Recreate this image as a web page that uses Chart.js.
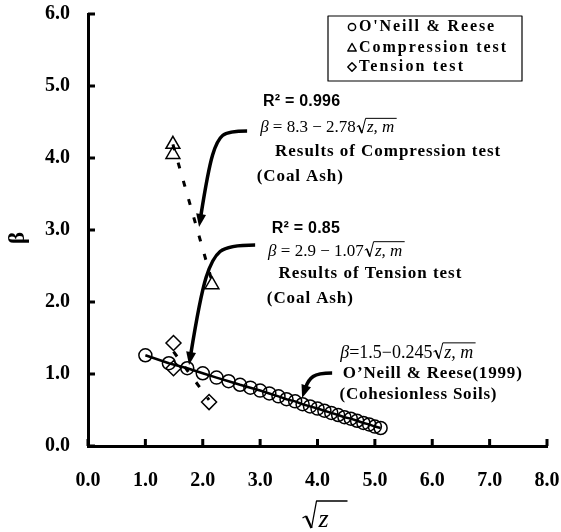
<!DOCTYPE html>
<html><head><meta charset="utf-8">
<script src="https://cdn.jsdelivr.net/npm/chart.js@4.4.1/dist/chart.umd.min.js"></script>
<style>html,body{margin:0;padding:0;background:#fff}canvas{display:block}</style>
</head><body>
<canvas id="c" width="561" height="532" style="width:561px;height:532px"></canvas>
<script>
// ---- data ----
const seriesLabels = ["O'Neill & Reese", "Compression test", "Tension test"];
const sqrtZ = [1.0, 1.41, 1.73, 2.0, 2.24, 2.45, 2.65, 2.83, 3.0, 3.16, 3.32, 3.46, 3.61, 3.74, 3.87, 4.0, 4.12, 4.24, 4.36, 4.47, 4.58, 4.69, 4.80, 4.90, 5.0, 5.10];
const betaONeill = [1.26, 1.15, 1.08, 1.01, 0.95, 0.90, 0.85, 0.81, 0.77, 0.73, 0.69, 0.65, 0.62, 0.58, 0.55, 0.52, 0.49, 0.46, 0.43, 0.40, 0.38, 0.35, 0.32, 0.30, 0.27, 0.25];
const compX = [1.48, 1.48, 2.16];
const compY = [4.19, 4.05, 2.24];
const tensX = [1.49, 1.49, 2.11];
const tensY = [1.43, 1.08, 0.61];
const compTrendX = [1.48, 2.16];
const compTrendY = [4.19, 2.29];
const tensTrendX = [1.49, 2.11];
const tensTrendY = [1.31, 0.64];
const xTicks = [0, 1, 2, 3, 4, 5, 6, 7, 8];
const yTicks = [0, 1, 2, 3, 4, 5, 6];

const pts = (xs, ys) => xs.map((x, i) => ({x: x, y: ys[i]}));
const SERIF = '"Liberation Serif", "Times New Roman", serif';
const SANS = '"Liberation Sans", Arial, sans-serif';

// annotation anchors (data units)
const arrows = [
  [[2.773, 4.375], [2.442, 4.375], [2.25, 4.25], [2.093, 3.833], [1.936, 3.042]],
  [[2.913, 2.792], [2.442, 2.792], [2.163, 2.611], [1.953, 2.069], [1.761, 1.125]],
  [[4.255, 1.014], [4.011, 1.014], [3.837, 0.917], [3.732, 0.667]]
];

function fitText(ctx, text, x, y, font, width) {
  ctx.font = font;
  ctx.letterSpacing = '0px';
  const w = ctx.measureText(text).width;
  const ls = width ? Math.max(0, (width - w) / Math.max(1, text.length - 1)) : 0;
  ctx.letterSpacing = ls.toFixed(2) + 'px';
  ctx.fillText(text, x, y);
  ctx.letterSpacing = '0px';
}

function drawEq(ctx, x, yMid, pre, fs) {
  const b = yMid + fs * 0.33;
  ctx.textBaseline = 'alphabetic';
  ctx.textAlign = 'left';
  ctx.fillStyle = '#000';
  ctx.font = 'italic ' + fs + 'px ' + SERIF;
  ctx.fillText('\u03B2', x, b);
  x += ctx.measureText('\u03B2').width;
  ctx.font = fs + 'px ' + SERIF;
  ctx.fillText(pre, x, b);
  x += ctx.measureText(pre).width + 1;
  ctx.font = 'italic ' + fs + 'px ' + SERIF;
  const tw = ctx.measureText('z, m').width;
  ctx.strokeStyle = '#000';
  ctx.lineWidth = 1;
  ctx.beginPath();
  ctx.moveTo(x, b - fs * 0.32);
  ctx.lineTo(x + fs * 0.12, b - fs * 0.40);
  ctx.lineTo(x + fs * 0.30, b + fs * 0.05);
  ctx.lineTo(x + fs * 0.52, b - fs * 0.82);
  ctx.lineTo(x + fs * 0.62 + tw + 2, b - fs * 0.82);
  ctx.stroke();
  ctx.beginPath();
  ctx.lineWidth = 1.6;
  ctx.moveTo(x + fs * 0.12, b - fs * 0.40);
  ctx.lineTo(x + fs * 0.30, b + fs * 0.05);
  ctx.stroke();
  ctx.fillText('z, m', x + fs * 0.60, b);
}

function drawArrow(ctx, p) {
  const last = p[p.length - 1], prev = p[p.length - 2];
  const ang = Math.atan2(last[1] - prev[1], last[0] - prev[0]);
  const L = 13, W = 5;
  const end = [last[0] - Math.cos(ang) * (L - 2), last[1] - Math.sin(ang) * (L - 2)];
  const q = p.slice(0, -1).concat([end]);
  ctx.strokeStyle = '#000';
  ctx.lineWidth = 3.5;
  ctx.lineJoin = 'round';
  ctx.beginPath();
  ctx.moveTo(q[0][0], q[0][1]);
  for (let i = 1; i < q.length - 1; i++) {
    const mx = (q[i][0] + q[i + 1][0]) / 2, my = (q[i][1] + q[i + 1][1]) / 2;
    ctx.quadraticCurveTo(q[i][0], q[i][1], i === q.length - 2 ? q[i + 1][0] : mx, i === q.length - 2 ? q[i + 1][1] : my);
  }
  ctx.stroke();
  ctx.fillStyle = '#000';
  ctx.beginPath();
  ctx.moveTo(last[0], last[1]);
  ctx.lineTo(last[0] - Math.cos(ang) * L + Math.sin(ang) * W, last[1] - Math.sin(ang) * L - Math.cos(ang) * W);
  ctx.lineTo(last[0] - Math.cos(ang) * L - Math.sin(ang) * W, last[1] - Math.sin(ang) * L + Math.cos(ang) * W);
  ctx.closePath();
  ctx.fill();
}

const decor = {
  id: 'decor',
  afterDatasetsDraw(chart) {
    const ctx = chart.ctx, xs = chart.scales.x, ys = chart.scales.y, ca = chart.chartArea;
    const P = (a) => [xs.getPixelForValue(a[0]), ys.getPixelForValue(a[1])];
    ctx.save();
    ctx.strokeStyle = '#000';
    ctx.lineWidth = 3;
    ctx.beginPath();
    xTicks.forEach(v => { const px = xs.getPixelForValue(v); ctx.moveTo(px, ca.bottom); ctx.lineTo(px, ca.bottom - 7); });
    yTicks.forEach(v => { const py = ys.getPixelForValue(v); ctx.moveTo(ca.left, py); ctx.lineTo(ca.left + 7, py); });
    ctx.stroke();
    arrows.forEach(a => drawArrow(ctx, a.map(P)));
    ctx.fillStyle = '#000';
    ctx.textAlign = 'left';
    ctx.textBaseline = 'middle';
    let p;
    p = P([3.052, 4.782]); fitText(ctx, 'R\u00B2 = 0.996', p[0], p[1], 'bold 16px ' + SANS, 77);
    p = P([3.0, 4.435]); drawEq(ctx, p[0], p[1], ' = 8.3 \u2212 2.78', 17);
    ctx.textBaseline = 'middle';
    p = P([3.261, 4.088]); fitText(ctx, 'Results of Compression test', p[0], p[1], 'bold 17px ' + SERIF, 225);
    p = P([2.942, 3.740]); fitText(ctx, '(Coal Ash)', p[0], p[1], 'bold 17px ' + SERIF, 86);
    p = P([3.204, 3.024]); fitText(ctx, 'R\u00B2 = 0.85', p[0], p[1], 'bold 16px ' + SANS, 68);
    p = P([3.139, 2.722]); drawEq(ctx, p[0], p[1], ' = 2.9 \u2212 1.07', 17);
    ctx.textBaseline = 'middle';
    p = P([3.319, 2.399]); fitText(ctx, 'Results of Tension test', p[0], p[1], 'bold 17px ' + SERIF, 183);
    p = P([3.117, 2.051]); fitText(ctx, '(Coal Ash)', p[0], p[1], 'bold 17px ' + SERIF, 86);
    p = P([4.395, 1.310]); drawEq(ctx, p[0], p[1], '=1.5\u22120.245', 18);
    ctx.textBaseline = 'middle';
    p = P([4.442, 1.010]); fitText(ctx, 'O\u2019Neill & Reese(1999)', p[0], p[1], 'bold 17px ' + SERIF, 179);
    p = P([4.383, 0.708]); fitText(ctx, '(Cohesionless Soils)', p[0], p[1], 'bold 17px ' + SERIF, 157);

    // legend box
    const bx = ca.right - 219, by = ca.top + 2, bw = 194, bh = 65;
    ctx.fillStyle = '#fff';
    ctx.fillRect(bx, by, bw, bh);
    ctx.strokeStyle = '#000';
    ctx.lineWidth = 1.2;
    ctx.strokeRect(bx, by, bw, bh);
    const rowY = [by + 11, by + 32, by + 51];
    const widths = [135, 147, 104];
    const sx = bx + 24;
    ctx.lineWidth = 1.5;
    ctx.beginPath(); ctx.arc(sx, rowY[0], 3.6, 0, Math.PI * 2); ctx.stroke();
    ctx.beginPath(); ctx.moveTo(sx, rowY[1] - 4.5); ctx.lineTo(sx + 4.2, rowY[1] + 3); ctx.lineTo(sx - 4.2, rowY[1] + 3); ctx.closePath(); ctx.stroke();
    ctx.beginPath(); ctx.moveTo(sx, rowY[2] - 4.2); ctx.lineTo(sx + 4.2, rowY[2]); ctx.lineTo(sx, rowY[2] + 4.2); ctx.lineTo(sx - 4.2, rowY[2]); ctx.closePath(); ctx.stroke();
    ctx.fillStyle = '#000';
    ctx.textBaseline = 'middle';
    seriesLabels.forEach((t, i) => fitText(ctx, t, sx + 7, rowY[i], 'bold 16px ' + SERIF, widths[i]));

    // axis titles
    ctx.save();
    ctx.translate(18, (ca.top + ca.bottom) / 2 + 8);
    ctx.rotate(-Math.PI / 2);
    ctx.textAlign = 'center';
    ctx.textBaseline = 'middle';
    ctx.font = 'bold 23px ' + SERIF;
    ctx.fillText('\u03B2', 0, 0);
    ctx.restore();
    const cx = (ca.left + ca.right) / 2 - 15;
    const base = 527;
    ctx.lineWidth = 1.3;
    ctx.beginPath();
    ctx.moveTo(cx, base - 9);
    ctx.lineTo(cx + 3.5, base - 11);
    ctx.stroke();
    ctx.lineWidth = 2.4;
    ctx.beginPath();
    ctx.moveTo(cx + 3.5, base - 11);
    ctx.lineTo(cx + 9, base + 1);
    ctx.stroke();
    ctx.lineWidth = 1.3;
    ctx.beginPath();
    ctx.moveTo(cx + 9, base + 1);
    ctx.lineTo(cx + 14, base - 26);
    ctx.lineTo(cx + 45, base - 26);
    ctx.stroke();
    ctx.font = 'italic 26px ' + SERIF;
    ctx.textAlign = 'left';
    ctx.textBaseline = 'alphabetic';
    ctx.fillText('z', cx + 16, base);
    ctx.restore();
  }
};

const noEdgePad = s => { s.paddingLeft = 0; s.paddingRight = 0; s.paddingTop = 0; s.paddingBottom = 0; };

new Chart(document.getElementById('c'), {
  type: 'scatter',
  data: {
    datasets: [
      { label: seriesLabels[0], data: pts(sqrtZ, betaONeill), showLine: true, borderColor: '#000', borderWidth: 2.5,
        pointStyle: 'circle', pointRadius: 6.5, pointBorderWidth: 1.5, pointBorderColor: '#000', pointBackgroundColor: 'rgba(0,0,0,0)' },
      { label: seriesLabels[1], data: pts(compX, compY), showLine: false, pointStyle: 'triangle', pointRadius: 8,
        pointBorderWidth: 1.5, pointBorderColor: '#000', pointBackgroundColor: 'rgba(255,255,255,0)' },
      { label: seriesLabels[2], data: pts(tensX, tensY), showLine: false, pointStyle: 'rectRot', pointRadius: 7.5,
        pointBorderWidth: 1.5, pointBorderColor: '#000', pointBackgroundColor: 'rgba(255,255,255,0)' },
      { label: 'compression trend', data: pts(compTrendX, compTrendY), showLine: true, borderColor: '#000', borderWidth: 3,
        borderDash: [6, 13], pointRadius: 0 },
      { label: 'tension trend', data: pts(tensTrendX, tensTrendY), showLine: true, borderColor: '#000', borderWidth: 3,
        borderDash: [6, 13], pointRadius: 0 }
    ]
  },
  options: {
    responsive: false,
    devicePixelRatio: 1,
    animation: false,
    layout: { autoPadding: false, padding: { top: 14, right: 14, left: 0, bottom: 0 } },
    plugins: { legend: { display: false }, tooltip: { enabled: false } },
    scales: {
      x: {
        type: 'linear', min: 0, max: 8,
        afterBuildTicks: s => { s.ticks = xTicks.map(v => ({ value: v })); },
        afterFit: s => { s.height = 86; noEdgePad(s); },
        ticks: { callback: v => v.toFixed(1), color: '#000', padding: 15, maxRotation: 0,
          font: { family: SERIF, size: 20, weight: 'bold' } },
        grid: { display: false },
        border: { display: true, color: '#000', width: 3 }
      },
      y: {
        type: 'linear', min: 0, max: 6,
        afterBuildTicks: s => { s.ticks = yTicks.map(v => ({ value: v })); },
        afterFit: s => { s.width = 88; noEdgePad(s); },
        ticks: { callback: v => v.toFixed(1), color: '#000', padding: 10,
          font: { family: SERIF, size: 20, weight: 'bold' } },
        grid: { display: false },
        border: { display: true, color: '#000', width: 3 }
      }
    }
  },
  plugins: [decor]
});
</script>
</body></html>
